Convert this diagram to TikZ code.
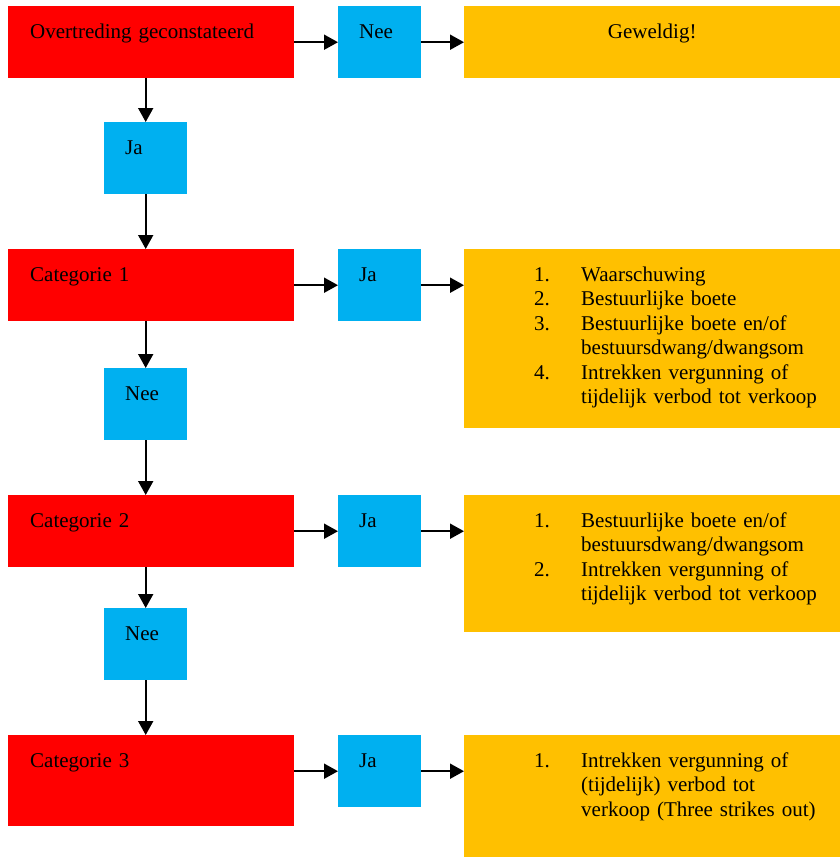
\documentclass[tikz,border=0pt]{standalone}
\usepackage{fontspec}
\setmainfont{Liberation Serif}
\usetikzlibrary{positioning,arrows.meta}

\definecolor{vakrood}{HTML}{FF0000}
\definecolor{vakblauw}{HTML}{00B0F0}
\definecolor{vakoranje}{HTML}{FFC000}

\begin{document}
\begin{tikzpicture}[x=1pt,y=-1pt,
    % Box styles
    vak/.style={rectangle,anchor=north west,inner ysep=0pt,text height=32pt,
		font=\fontsize{21}{24.5}\selectfont},
    redbox/.style={vak,fill=vakrood,inner xsep=22pt,text width=242pt,align=left},
    bluebox/.style={vak,fill=vakblauw,inner xsep=21pt,text width=41pt,align=left},
    orangebox/.style={vak,fill=vakoranje,inner xsep=0pt,text width=376pt,align=left},
    pijl/.style={line width=1.8pt,-{Triangle[length=14pt,width=15pt]}}
    ]
   \useasboundingbox (0,0) rectangle (840,857);

%%% Bovenste rij
   \node [redbox, text depth=40pt] (overtr) at (8,6) {Overtreding geconstateerd};
   \node [bluebox, text depth=40pt] (nee0) at (338,6) {Nee};
   \node [orangebox, text depth=40pt, align=center] (geweldig) at (464,6) {Geweldig!};
   \node [bluebox, text depth=40pt] (ja0) at (104,122) {Ja};

%%% Categorie 1
   \node [redbox, text depth=40pt] (cat1) at (8,249) {Categorie 1};
   \node [bluebox, text depth=40pt] (ja1) at (338,249) {Ja};
   \node [orangebox, text depth=147pt] (maatr1) at (464,249) {\hspace*{70pt}%
     \begin{tabular}[t]{@{}p{47pt}@{}l@{}}
       1. & Waarschuwing\\
       2. & Bestuurlijke boete\\
       3. & Bestuurlijke boete en/of\\
          & bestuursdwang/dwangsom\\
       4. & Intrekken vergunning of\\
          & tijdelijk verbod tot verkoop
     \end{tabular}};
   \node [bluebox, text depth=40pt] (nee1) at (104,368) {Nee};

%%% Categorie 2
   \node [redbox, text depth=40pt] (cat2) at (8,495) {Categorie 2};
   \node [bluebox, text depth=40pt] (ja2) at (338,495) {Ja};
   \node [orangebox, text depth=105pt] (maatr2) at (464,495) {\hspace*{70pt}%
     \begin{tabular}[t]{@{}p{47pt}@{}l@{}}
       1. & Bestuurlijke boete en/of\\
          & bestuursdwang/dwangsom\\
       2. & Intrekken vergunning of\\
          & tijdelijk verbod tot verkoop
     \end{tabular}};
   \node [bluebox, text depth=40pt] (nee2) at (104,608) {Nee};

%%% Categorie 3
   \node [redbox, text depth=59pt] (cat3) at (8,735) {Categorie 3};
   \node [bluebox, text depth=40pt] (ja3) at (338,735) {Ja};
   \node [orangebox, text depth=90pt] (maatr3) at (464,735) {\hspace*{70pt}%
     \begin{tabular}[t]{@{}p{47pt}@{}l@{}}
       1. & Intrekken vergunning of\\
          & (tijdelijk) verbod tot\\
          & verkoop (Three strikes out)
     \end{tabular}};

%%% Pijlen
   \draw [pijl] (overtr.east |- nee0.west) -- (nee0.west);
   \draw [pijl] (nee0.east) -- (nee0.east -| geweldig.west);
   \draw [pijl] (overtr.south -| ja0.north) -- (ja0.north);
   \draw [pijl] (ja0.south) -- (ja0.south |- cat1.north);

   \draw [pijl] (cat1.east |- ja1.west) -- (ja1.west);
   \draw [pijl] (ja1.east) -- (ja1.east -| maatr1.west);
   \draw [pijl] (cat1.south -| nee1.north) -- (nee1.north);
   \draw [pijl] (nee1.south) -- (nee1.south |- cat2.north);

   \draw [pijl] (cat2.east |- ja2.west) -- (ja2.west);
   \draw [pijl] (ja2.east) -- (ja2.east -| maatr2.west);
   \draw [pijl] (cat2.south -| nee2.north) -- (nee2.north);
   \draw [pijl] (nee2.south) -- (nee2.south |- cat3.north);

   \draw [pijl] (cat3.east |- ja3.west) -- (ja3.west);
   \draw [pijl] (ja3.east) -- (ja3.east -| maatr3.west);
\end{tikzpicture}
\end{document}
